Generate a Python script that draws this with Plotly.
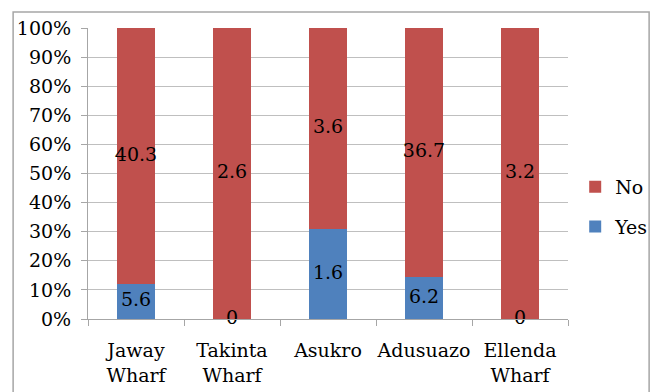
import numpy as np
import plotly.graph_objects as go

# Survey responses per landing site
sites = ["Jaway<br>Wharf", "Takinta<br>Wharf", "Asukro", "Adusuazo", "Ellenda<br>Wharf"]
yes_vals = [5.6, 0, 1.6, 6.2, 0]
no_vals = [40.3, 2.6, 3.6, 36.7, 3.2]

RED = "#C0504D"
BLUE = "#4F81BD"
FONT = "DejaVu Serif"
FS = 19

yes = np.array(yes_vals, dtype=float)
no = np.array(no_vals, dtype=float)
tot = yes + no
yes_pct = yes / tot * 100
no_pct = no / tot * 100

fig = go.Figure()
fig.add_trace(go.Bar(x=sites, y=yes_vals, name="Yes", marker_color=BLUE,
                     marker_line_width=0, legendgroup="yes", legendrank=2))
fig.add_trace(go.Bar(x=sites, y=no_vals, name="No", marker_color=RED,
                     marker_line_width=0, legendgroup="no", legendrank=1))

# value labels at the middle of each stacked segment
lab_x = sites + sites
lab_y = list(yes_pct / 2) + list(yes_pct + no_pct / 2)
lab_t = [f"{v:g}" for v in yes_vals] + [f"{v:g}" for v in no_vals]
fig.add_trace(go.Scatter(x=lab_x, y=lab_y, text=lab_t, mode="text",
                         textposition="middle center",
                         textfont=dict(family=FONT, size=FS, color="black"),
                         showlegend=False, hoverinfo="skip", cliponaxis=False))

fig.update_layout(
    width=656, height=392,
    margin=dict(l=88, r=88, t=28, b=73, autoexpand=False),
    barmode="stack", barnorm="percent", bargap=0.6,
    plot_bgcolor="white", paper_bgcolor="white",
    font=dict(family=FONT, size=FS, color="black"),
    legend=dict(x=1.015, y=0.385, xanchor="left", yanchor="middle",
                traceorder="grouped", tracegroupgap=12,
                font=dict(family=FONT, size=FS), bgcolor="rgba(0,0,0,0)"),
    showlegend=True,
)
fig.update_yaxes(range=[0, 100], dtick=10, ticksuffix="%",
                 showgrid=True, gridcolor="#BFBFBF", gridwidth=1,
                 showline=True, linecolor="#A6A6A6", linewidth=1,
                 ticks="outside", ticklen=6, tickcolor="#A6A6A6",
                 ticklabelstandoff=6, zeroline=False, automargin=False,
                 tickfont=dict(family=FONT, size=FS))
fig.update_xaxes(showline=True, linecolor="#A6A6A6", linewidth=1,
                 ticks="outside", ticklen=6, tickcolor="#A6A6A6",
                 tickson="boundaries", ticklabelstandoff=14, showgrid=False,
                 tickangle=0, automargin=False,
                 tickfont=dict(family=FONT, size=FS))

# outer chart frame
fig.add_shape(type="rect", xref="paper", yref="paper",
              x0=-0.156, x1=1.169, y0=-0.3, y1=1.055,
              line=dict(color="#A6A6A6", width=1.5), layer="below")

fig.write_html("out.html")
